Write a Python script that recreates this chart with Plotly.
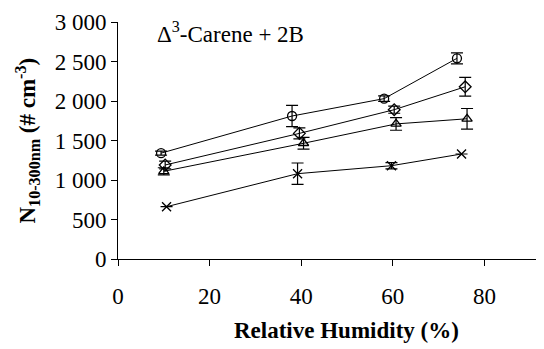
import plotly.graph_objects as go

# Data
rh_circle = [9.4, 38.0, 58.1, 74.0]
n_circle = [1340, 1810, 2030, 2540]
err_circle = [25, 135, 35, 70]

rh_diamond = [10.3, 39.6, 60.3, 75.8]
n_diamond = [1190, 1590, 1890, 2180]
err_diamond = [50, 70, 45, 118]

rh_triangle = [10.0, 40.5, 60.7, 76.2]
n_triangle = [1110, 1465, 1710, 1775]
err_triangle = [45, 75, 80, 130]

rh_cross = [10.6, 39.2, 59.7, 75.0]
n_cross = [662, 1080, 1181, 1329]
err_cross = [0, 135, 40, 0]

x_ticks = [0, 20, 40, 60, 80]
y_ticks = [0, 500, 1000, 1500, 2000, 2500, 3000]

FONT = "Liberation Serif, Times New Roman, Times, serif"
FS = 23

# page body has an 8px margin; compensate so plot area lands at x 118..544, y 22..259
OFF = 8
W, H = 544 - OFF, 349 - OFF
L, T = 118 - OFF, 22 - OFF
PW, PH = 426, 237

fig = go.Figure()

series = [
    (rh_circle, n_circle, err_circle, "circle-open"),
    (rh_diamond, n_diamond, err_diamond, "diamond-open"),
    (rh_triangle, n_triangle, err_triangle, "triangle-up-open"),
    (rh_cross, n_cross, err_cross, "x-thin-open"),
]
for xs, ys, es, sym in series:
    fig.add_trace(go.Scatter(
        x=xs, y=ys, mode="lines+markers",
        line=dict(color="black", width=1),
        marker=dict(symbol=sym, size=9, color="black", line=dict(color="black", width=1.3)),
        error_y=dict(type="data", array=es, visible=True, color="black", thickness=1.2, width=6),
        showlegend=False,
    ))

fig.update_layout(
    width=W, height=H,
    margin=dict(l=L, r=W - L - PW, t=T, b=H - T - PH),
    paper_bgcolor="white", plot_bgcolor="white",
    separators=". ",
    font=dict(family=FONT, size=FS, color="black"),
    xaxis=dict(
        range=[0, 93], tickvals=x_ticks, ticks="outside", ticklen=6, tickcolor="black",
        showline=True, linecolor="black", linewidth=1, showgrid=False, zeroline=False,
        tickfont=dict(family=FONT, size=FS, color="black"), ticklabelstandoff=10,
    ),
    yaxis=dict(
        range=[0, 3000], tickvals=y_ticks, tickformat=",d", ticks="outside", ticklen=6,
        tickcolor="black", showline=True, linecolor="black", linewidth=1,
        showgrid=False, zeroline=False,
        tickfont=dict(family=FONT, size=FS, color="black"),
    ),
    annotations=[
        dict(text="Δ<sup>3</sup>-Carene + 2B", xref="paper", yref="paper",
             x=(155 - 118) / PW, y=(259 - 33) / PH, xanchor="left", yanchor="middle",
             showarrow=False, font=dict(family=FONT, size=FS, color="black")),
        dict(text="<b>Relative Humidity (%)</b>", xref="paper", yref="paper",
             x=(346 - 118) / PW, y=-(330 - 259) / PH, xanchor="center", yanchor="middle",
             showarrow=False, font=dict(family=FONT, size=FS, color="black")),
        dict(text="<b>N<sub>10-300nm</sub> (# cm<sup>-3</sup>)</b>", xref="paper", yref="paper",
             x=-(118 - 27) / PW, y=0.5, xanchor="center", yanchor="middle", textangle=-90,
             showarrow=False, font=dict(family=FONT, size=FS, color="black")),
    ],
)

fig.write_html("out.html")
